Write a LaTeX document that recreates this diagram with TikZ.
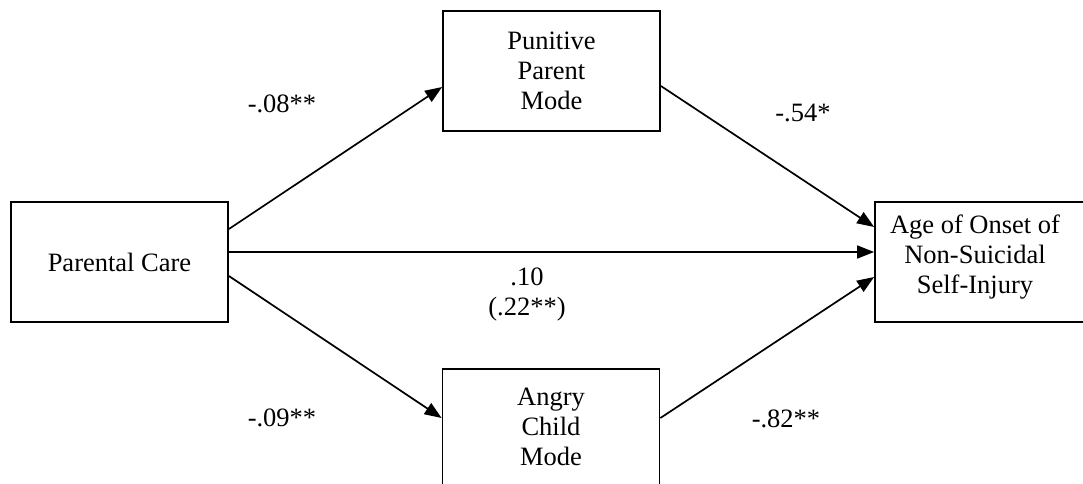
\documentclass[tikz,border=0pt]{standalone}
\usepackage{fontspec}
\setmainfont{Liberation Serif}
\usetikzlibrary{arrows.meta}
\begin{document}
\begin{tikzpicture}[x=1pt,y=-1pt,
  box/.style={draw,line width=1.8pt,minimum width=217pt,minimum height=120pt,inner sep=0pt,align=center,
    font=\fontsize{26.5}{30}\selectfont},
  lbl/.style={font=\fontsize{26.5}{30}\selectfont,inner sep=0pt,align=center},
  arr/.style={line width=1.7pt,-{Triangle[length=17pt,width=13pt]}}]
\useasboundingbox (0,0) rectangle (1083,484);
\clip (0,0) rectangle (1083,484);
\node[box] (pc) at (119.5,262) {Parental Care};
\node[box] (ppm) at (551.5,71) {Punitive\\Parent\\Mode};
\node[box] (acm) at (551,429) {};
\node[lbl,anchor=center] (acmt) at (551,427) {Angry\\Child\\Mode};
\node[box] (age) at (983.5,262) {};
\node[lbl] (aget) at (975,257) {Age of Onset of\\Non-Suicidal\\Self-Injury};
\draw[arr] ([yshift=33pt]pc.east) -- ([yshift=-16pt]ppm.west);
\draw[arr] ([yshift=-15pt]ppm.east) -- ([yshift=35pt]age.west);
\draw[arr] ([yshift=10pt]pc.east) -- ([yshift=10pt]age.west);
\draw[arr] ([yshift=-14pt]pc.east) -- ([yshift=11pt]acm.west);
\draw[arr] ([yshift=11pt]acm.east) -- ([yshift=-15pt]age.west);
\node[lbl] (l1) at (282,104) {-.08**};
\node[lbl] (l2) at (803,113) {-.54*};
\node[lbl] (l3) at (527,295) {.10\\(.22**)};
\node[lbl] (l4) at (282,418) {-.09**};
\node[lbl] (l5) at (786,419) {-.82**};
\end{tikzpicture}
\end{document}
